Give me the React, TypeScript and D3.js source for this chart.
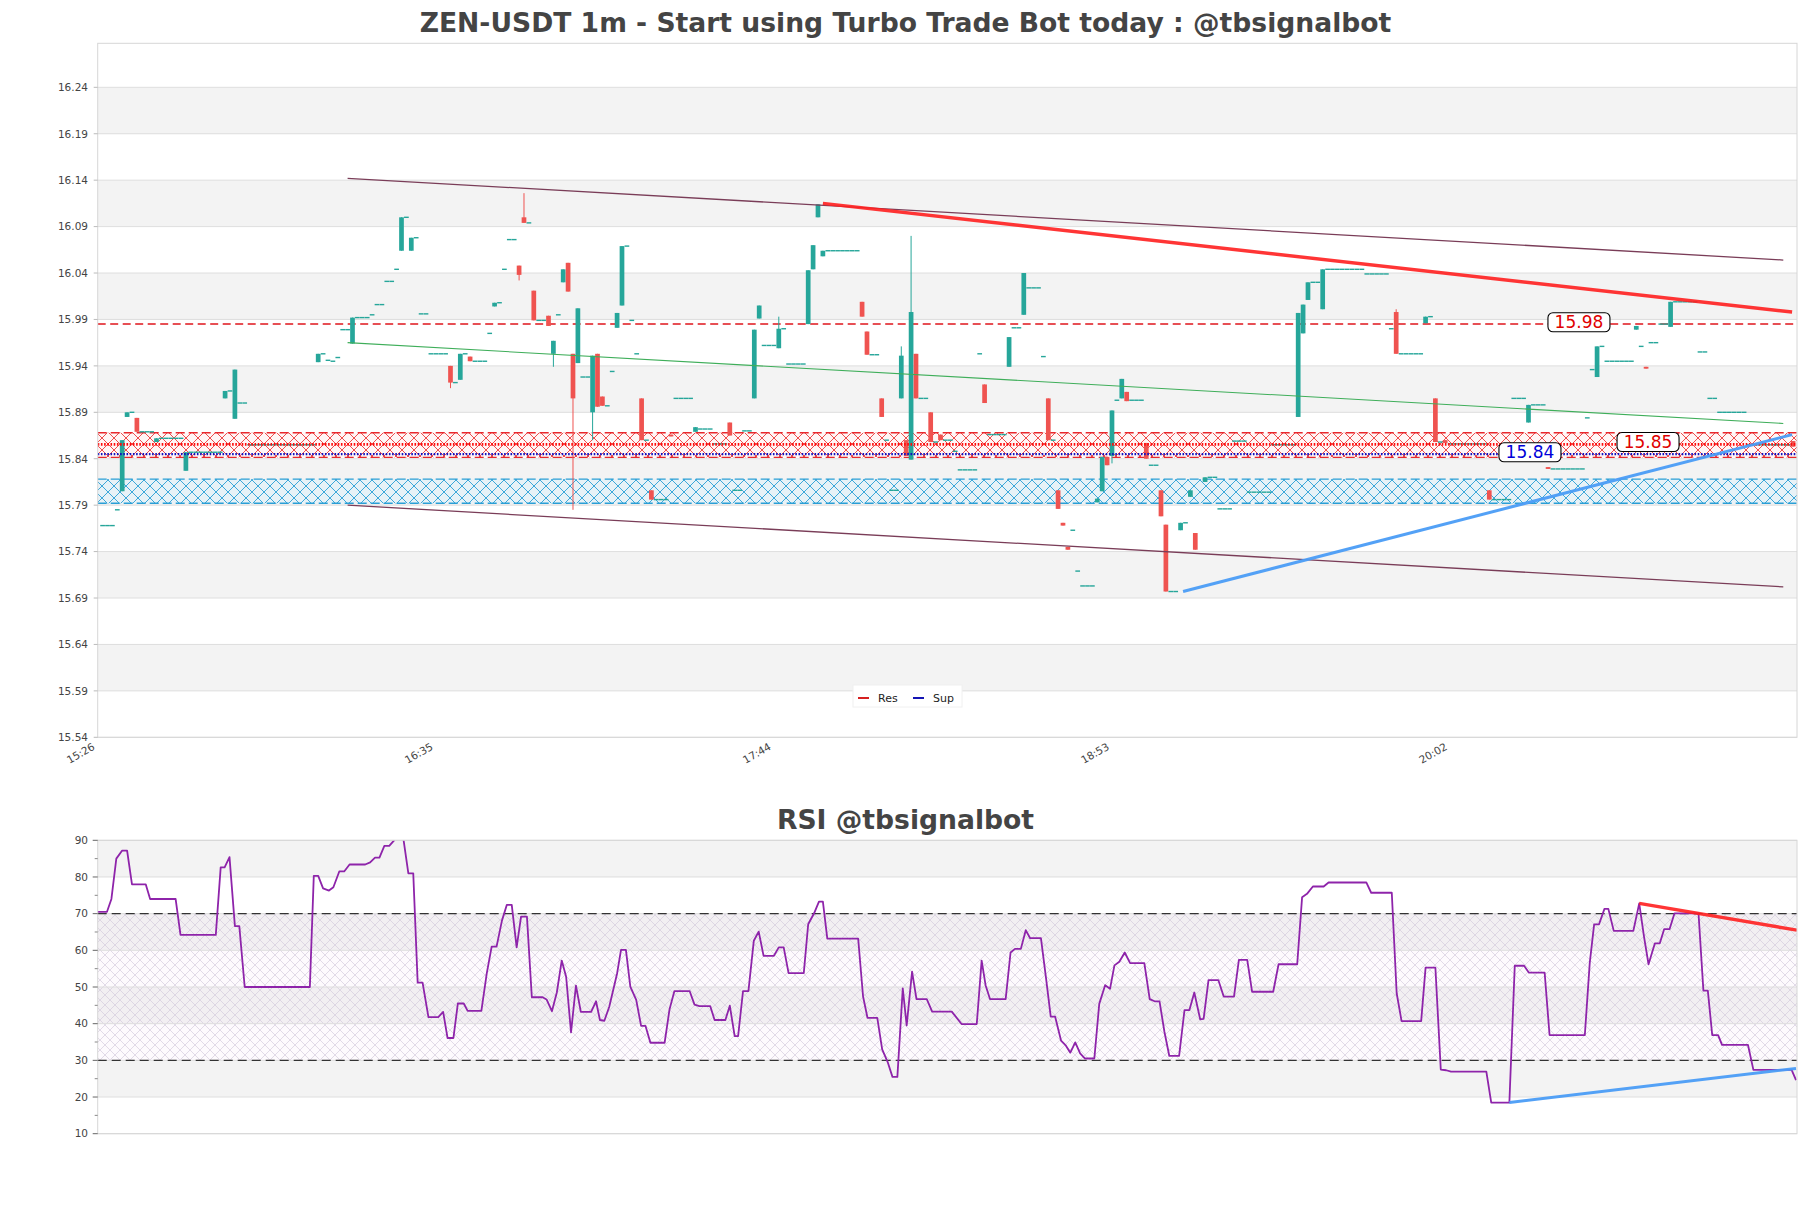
import React from 'react';
import * as d3 from 'd3';

const TITLE = 'ZEN-USDT 1m - Start using Turbo Trade Bot today : @tbsignalbot';
const RSI_TITLE = 'RSI @tbsignalbot';

const priceTicks = [15.54, 15.59, 15.64, 15.69, 15.74, 15.79, 15.84, 15.89, 15.94, 15.99, 16.04, 16.09, 16.14, 16.19, 16.24];
const rsiTicks = [10, 20, 30, 40, 50, 60, 70, 80, 90];
const rsiMinorTicks = [15, 25, 35, 45, 55, 65, 75, 85];
const timeTicks = [0, 69, 138, 207, 276];
const timeLabels = ['15:26', '16:35', '17:44', '18:53', '20:02'];

// [minute index, open, high, low, close]
const candles: number[][] = [
  [5, 15.805, 15.860, 15.805, 15.860],
  [6, 15.885, 15.890, 15.885, 15.890],
  [8, 15.884, 15.884, 15.869, 15.869],
  [12, 15.858, 15.862, 15.858, 15.862],
  [18, 15.827, 15.847, 15.827, 15.847],
  [26, 15.905, 15.913, 15.905, 15.913],
  [28, 15.883, 15.936, 15.883, 15.936],
  [45, 15.944, 15.953, 15.944, 15.953],
  [52, 15.964, 15.992, 15.964, 15.992],
  [62, 16.064, 16.100, 16.064, 16.100],
  [64, 16.064, 16.078, 16.064, 16.078],
  [72, 15.940, 15.940, 15.916, 15.922],
  [74, 15.925, 15.953, 15.925, 15.953],
  [76, 15.950, 15.950, 15.945, 15.945],
  [81, 16.004, 16.008, 16.004, 16.008],
  [86, 16.048, 16.048, 16.032, 16.038],
  [87, 16.100, 16.126, 16.094, 16.094],
  [89, 16.021, 16.021, 15.989, 15.989],
  [92, 15.994, 15.994, 15.983, 15.983],
  [93, 15.953, 15.967, 15.939, 15.967],
  [95, 16.030, 16.044, 16.030, 16.044],
  [96, 16.051, 16.051, 16.020, 16.020],
  [97, 15.953, 15.953, 15.785, 15.905],
  [98, 15.943, 16.002, 15.943, 16.002],
  [101, 15.890, 15.951, 15.860, 15.951],
  [102, 15.953, 15.953, 15.896, 15.896],
  [103, 15.907, 15.907, 15.897, 15.897],
  [106, 15.981, 15.997, 15.981, 15.997],
  [107, 16.005, 16.069, 16.005, 16.069],
  [111, 15.905, 15.905, 15.860, 15.860],
  [113, 15.806, 15.806, 15.796, 15.796],
  [117, 15.866, 15.866, 15.864, 15.864],
  [122, 15.869, 15.874, 15.869, 15.874],
  [129, 15.879, 15.879, 15.865, 15.865],
  [134, 15.905, 15.979, 15.905, 15.979],
  [135, 15.991, 16.005, 15.991, 16.005],
  [139, 15.959, 15.993, 15.959, 15.980],
  [145, 15.985, 16.043, 15.985, 16.043],
  [146, 16.044, 16.070, 16.044, 16.070],
  [147, 16.100, 16.114, 16.100, 16.114],
  [148, 16.058, 16.064, 16.058, 16.064],
  [156, 16.009, 16.009, 15.993, 15.993],
  [157, 15.977, 15.977, 15.952, 15.952],
  [160, 15.905, 15.905, 15.885, 15.885],
  [164, 15.905, 15.961, 15.905, 15.951],
  [165, 15.860, 15.860, 15.843, 15.843],
  [166, 15.839, 16.080, 15.839, 15.998],
  [167, 15.953, 15.953, 15.905, 15.905],
  [170, 15.890, 15.890, 15.858, 15.858],
  [172, 15.866, 15.866, 15.860, 15.860],
  [181, 15.920, 15.920, 15.900, 15.900],
  [186, 15.939, 15.971, 15.939, 15.971],
  [189, 15.995, 16.040, 15.995, 16.040],
  [194, 15.905, 15.905, 15.860, 15.860],
  [196, 15.806, 15.806, 15.786, 15.786],
  [197, 15.771, 15.771, 15.768, 15.768],
  [198, 15.745, 15.745, 15.742, 15.742],
  [204, 15.793, 15.797, 15.793, 15.797],
  [205, 15.805, 15.842, 15.805, 15.842],
  [206, 15.842, 15.842, 15.833, 15.833],
  [207, 15.843, 15.892, 15.835, 15.892],
  [209, 15.905, 15.926, 15.905, 15.926],
  [210, 15.912, 15.912, 15.902, 15.902],
  [214, 15.857, 15.857, 15.840, 15.840],
  [217, 15.806, 15.806, 15.778, 15.778],
  [218, 15.769, 15.769, 15.697, 15.697],
  [221, 15.763, 15.771, 15.763, 15.771],
  [223, 15.799, 15.806, 15.799, 15.806],
  [224, 15.760, 15.760, 15.742, 15.742],
  [226, 15.815, 15.820, 15.815, 15.820],
  [245, 15.885, 15.997, 15.885, 15.997],
  [246, 15.975, 16.006, 15.975, 16.006],
  [247, 16.011, 16.030, 16.011, 16.030],
  [250, 16.001, 16.044, 16.001, 16.044],
  [265, 15.998, 16.001, 15.953, 15.953],
  [271, 15.986, 15.993, 15.986, 15.993],
  [273, 15.905, 15.905, 15.858, 15.858],
  [275, 15.860, 15.860, 15.857, 15.857],
  [284, 15.806, 15.806, 15.796, 15.796],
  [292, 15.879, 15.898, 15.879, 15.898],
  [296, 15.831, 15.831, 15.829, 15.829],
  [306, 15.928, 15.961, 15.928, 15.961],
  [314, 15.979, 15.983, 15.979, 15.983],
  [316, 15.939, 15.939, 15.937, 15.937],
  [321, 15.982, 16.009, 15.982, 16.009],
  [346, 15.859, 15.859, 15.853, 15.853],
];

// flat (open = high = low = close) minutes: [first index, last index, price]
const flats: number[][] = [
  [1, 3, 15.768], [4, 4, 15.785], [7, 7, 15.890], [9, 11, 15.869], [13, 17, 15.862],
  [19, 25, 15.847], [27, 27, 15.913], [29, 30, 15.900], [31, 44, 15.855], [46, 46, 15.953],
  [47, 47, 15.946], [48, 48, 15.945], [49, 49, 15.949], [50, 51, 15.979], [53, 55, 15.992],
  [56, 56, 15.995], [57, 58, 16.006], [59, 60, 16.031], [61, 61, 16.044], [63, 63, 16.100],
  [65, 65, 16.078], [66, 67, 15.996], [68, 71, 15.953], [73, 73, 15.922], [75, 75, 15.953],
  [77, 79, 15.945], [80, 80, 15.975], [82, 82, 16.008], [83, 83, 16.044], [84, 85, 16.076],
  [88, 88, 16.094], [90, 91, 15.989], [94, 94, 15.995], [99, 100, 15.928], [104, 104, 15.897],
  [105, 105, 15.934], [108, 108, 16.069], [109, 109, 15.989], [110, 110, 15.953], [112, 112, 15.860],
  [114, 116, 15.796], [118, 121, 15.905], [123, 125, 15.872], [126, 128, 15.856], [130, 131, 15.806],
  [132, 133, 15.870], [136, 138, 15.962], [140, 140, 15.980], [141, 144, 15.942], [149, 155, 16.064],
  [158, 159, 15.952], [161, 161, 15.860], [162, 163, 15.806], [168, 169, 15.905], [171, 171, 15.858],
  [173, 174, 15.860], [175, 175, 15.848], [176, 179, 15.828], [180, 180, 15.953], [182, 185, 15.866],
  [187, 188, 15.981], [190, 192, 16.024], [193, 193, 15.950], [195, 195, 15.860], [199, 199, 15.763],
  [200, 200, 15.719], [201, 203, 15.703], [208, 208, 15.903], [211, 213, 15.903], [215, 216, 15.833],
  [219, 220, 15.697], [222, 222, 15.771], [227, 228, 15.820], [229, 231, 15.786], [232, 234, 15.859],
  [235, 239, 15.804], [240, 244, 15.855], [248, 249, 16.030], [251, 258, 16.044], [259, 263, 16.039],
  [264, 264, 15.980], [266, 270, 15.953], [272, 272, 15.993], [274, 274, 15.858], [276, 283, 15.856],
  [285, 288, 15.796], [289, 291, 15.905], [293, 295, 15.898], [297, 303, 15.829], [304, 304, 15.884],
  [305, 305, 15.936], [307, 307, 15.961], [308, 313, 15.945], [315, 315, 15.961], [317, 318, 15.965],
  [319, 320, 15.985], [322, 326, 16.009], [327, 328, 15.955], [329, 330, 15.905], [331, 336, 15.890],
  [337, 345, 15.855],
];

// RSI polyline vertices: [minute index, value]
const rsiPoints: number[][] = [
  [-0.1, 70.5], [1.9, 70.5], [2.8, 74], [3.8, 85], [5, 87.2], [6, 87.2], [7, 78], [9.8, 78], [10.7, 74],
  [15.9, 74], [16.9, 64.2], [24.1, 64.2], [25.1, 82.6], [25.9, 82.6], [26.9, 85.4], [28, 66.6], [28.9, 66.6],
  [30, 50], [43.3, 50], [44.1, 80.3], [45, 80.3], [46, 76.9], [47.2, 76.3], [48.1, 77.2], [49.3, 81.5],
  [50.3, 81.5], [51.4, 83.4], [54.6, 83.4], [55.6, 84], [56.6, 85.3], [57.5, 85.3], [58.5, 88.5], [59.5, 88.5],
  [60.5, 90], [61.6, 92.5], [62.4, 90.3], [63.4, 81], [64.4, 81], [65.3, 51.2], [66.3, 51.2], [67.5, 41.8],
  [69.5, 41.8], [70.5, 43.2], [71.4, 36.1], [72.6, 36.1], [73.5, 45.5], [74.7, 45.5], [75.5, 43.5], [78.3, 43.5],
  [79.4, 53.7], [80.4, 61], [81.4, 61], [82.5, 68.1], [83.5, 72.4], [84.5, 72.4], [85.5, 60.8], [86.4, 69.2],
  [87.6, 69.2], [88.6, 47.2], [90.8, 47.2], [91.6, 46.6], [92.7, 43.4], [93.7, 48.5], [94.7, 57.2], [95.6, 52.8],
  [96.6, 37.6], [97.6, 50.4], [98.6, 43.2], [100.7, 43.2], [101.7, 46.1], [102.5, 41],
  [103.4, 40.8], [104.4, 44.6], [106, 53.7], [106.8, 60.1], [107.8, 60.1], [108.7, 50.1], [109.9, 46.5],
  [110.9, 39.4], [111.8, 39.4], [112.8, 34.8], [115.7, 34.8], [116.7, 43.9], [117.7, 48.9], [120.8, 48.9],
  [121.8, 45.2], [122.8, 44.8], [125, 44.8], [125.9, 41], [128.1, 41], [129, 44.9], [130, 36.6], [130.7, 36.6],
  [131.7, 48.9], [132.8, 48.9], [133.9, 62.6], [134.9, 65.1], [135.9, 58.5], [138, 58.5], [139, 60.8],
  [140, 60.8], [141, 53.8], [144.1, 53.8], [145, 67.1], [146.2, 70.1], [147.2, 73.3], [148, 73.3], [148.9, 63.2],
  [155.2, 63.2], [156.2, 47.4], [157.1, 41.6], [159.1, 41.6], [160.1, 33], [161.2, 29.6], [162.2, 25.5],
  [163.2, 25.5], [164.3, 49.6], [165.1, 39.5], [166.2, 54.2], [167.1, 46.7], [169.2, 46.7], [170.3, 43.3],
  [174.3, 43.3], [176.3, 39.9], [179.4, 39.9], [180.4, 57.2], [181.2, 50.5], [182.1, 46.7], [185.3, 46.7],
  [186.3, 59.4], [187.2, 60.4], [188.4, 60.4], [189.4, 65.5], [190.3, 63.3], [192.5, 63.3], [193.5, 52.8],
  [194.5, 41.9], [195.4, 41.9], [196.6, 35.4], [197.6, 34], [198.5, 32.1], [199.5, 34.9], [200.5, 31.9],
  [201.5, 30.5], [203.4, 30.5], [204.4, 45.4], [205.6, 50.5], [206.6, 49.5], [207.5, 55.9], [208.5, 56.9],
  [209.6, 59.4], [210.7, 56.5], [213.6, 56.5], [214.7, 46.7], [215.7, 46.1], [216.7, 46.1], [217.7, 37.8],
  [218.7, 31.2], [220.7, 31.2], [221.8, 43.7], [222.8, 43.7], [223.8, 48.5], [225, 41.2],
  [225.7, 41.3], [226.7, 51.9], [228.7, 51.9], [229.8, 47.4], [231.9, 47.4], [232.9, 57.4], [234.6, 57.4],
  [235.6, 48.7], [239.9, 48.7], [241, 56.2], [244.8, 56.2], [245.8, 74.5], [246.8, 75.4], [248, 77.4],
  [250.2, 77.4], [251.2, 78.5], [258.9, 78.5], [259.9, 75.7], [264.1, 75.7], [265.1, 48.3], [266.1, 40.7],
  [270.1, 40.7], [271, 55.3], [273, 55.3], [274.1, 27.5], [275.2, 27.3], [276.2, 26.9], [283.4, 26.9],
  [284.4, 18.5], [288.1, 18.5], [289.2, 55.8], [291.1, 55.8], [292.1, 53.9], [295.3, 53.9], [296.3, 36.9],
  [303.5, 36.9], [304.5, 56.5], [305.4, 67.1], [306.4, 67.1], [307.5, 71.3], [308.3, 71.3], [309.4, 65.3],
  [313.4, 65.3], [314.6, 72.8], [315.6, 63.5], [316.5, 56.2], [317.8, 61.9], [318.8, 61.9], [319.7, 65.8],
  [320.8, 65.8], [321.8, 70.1], [326.7, 70.1], [327.7, 49], [328.6, 49], [329.5, 36.9], [330.7, 36.9],
  [331.5, 34.2], [336.8, 34.2], [337.9, 27.4], [345.7, 27.4], [346.6, 24.6],
];

const resZone = [15.8415, 15.868];
const supZone = [15.792, 15.818];
const resLevel = 15.8555;
const supLevel = 15.845;
const keyLevel = 15.985;
const channelUpper = [[51, 16.142], [344, 16.054]];
const channelLower = [[51, 15.790], [344, 15.702]];
const channelMid = [[51, 15.965], [344, 15.878]];
const resTrend = [[148, 16.115], [345.8, 15.998]];
const supTrend = [[221.5, 15.697], [345.8, 15.866]];
const rsiResTrend = [[314.6, 72.8], [346.8, 65.5]];
const rsiSupTrend = [[288.1, 18.5], [346.6, 27.8]];
const priceLabels = [
  { text: '15.98', k: 302.3, v: 15.987, color: '#e00000' },
  { text: '15.85', k: 316.4, v: 15.858, color: '#e00000' },
  { text: '15.84', k: 292.3, v: 15.847, color: '#0000d8' },
];

const FONT = '"DejaVu Sans", Verdana, sans-serif';
const TEAL = '#26a69a';
const RED = '#ef5350';
const GRID = '#dedede';
const BAND = '#f3f3f3';
const TXT = '#444444';

const L = 97.7, R = 1797;
const T1 = 43.3, B1 = 737.3;
const T2 = 840.3, B2 = 1133.7;

export default function App() {
  const x = d3.scaleLinear().domain([0, 346.8]).range([L, R]);
  const y = d3.scaleLinear().domain([15.54, 16.2874]).range([B1, T1]);
  const yr = d3.scaleLinear().domain([10, 90]).range([B2, T2]);
  const step = x(1) - x(0);
  const bw = step * 0.96;

  const seg = (pts: number[][], sy: any) =>
    d3.line<number[]>().x(d => x(d[0])).y(d => sy(d[1]))(pts) || '';

  const rsiPath = d3.line<number[]>().x(d => x(d[0])).y(d => yr(d[1]))(rsiPoints) || '';

  const bandsMain: number[][] = [];
  for (let i = 1; i + 1 < priceTicks.length; i += 2) bandsMain.push([priceTicks[i], priceTicks[i + 1]]);
  const bandsRsi: number[][] = [];
  for (let i = 1; i + 1 < rsiTicks.length; i += 2) bandsRsi.push([rsiTicks[i], rsiTicks[i + 1]]);

  const flatBars: { k: number; v: number }[] = [];
  flats.forEach(([a, b, v]) => d3.range(a, b + 1).forEach(k => flatBars.push({ k, v })));

  return (
    <svg width={1811} height={1208} style={{ position: 'absolute', left: 0, top: 0, background: '#fff' }}
      fontFamily={FONT}>
      <defs>
        <clipPath id="clipMain"><rect x={L} y={T1} width={R - L} height={B1 - T1} /></clipPath>
        <clipPath id="clipRsi"><rect x={L} y={T2} width={R - L} height={B2 - T2} /></clipPath>
        <pattern id="hRed" width={12} height={12} patternUnits="userSpaceOnUse">
          <path d="M0,0L12,12M12,0L0,12" stroke="#ec3a3a" strokeWidth={0.9} fill="none" />
        </pattern>
        <pattern id="hCyan" width={12} height={12} patternUnits="userSpaceOnUse">
          <path d="M0,0L12,12M12,0L0,12" stroke="#2a9fd6" strokeWidth={0.9} fill="none" />
        </pattern>
        <pattern id="hRsi" width={10} height={10} patternUnits="userSpaceOnUse">
          <path d="M0,0L10,10M10,0L0,10" stroke="#cfc4d8" strokeWidth={0.6} fill="none" />
        </pattern>
      </defs>

      <rect x={0} y={0} width={1811} height={1208} fill="#fff" />

      {/* ---------- MAIN CHART ---------- */}
      <text x={905.5} y={32} textAnchor="middle" fontSize={26.6} fontWeight="bold" fill={TXT}>{TITLE}</text>
      <rect x={L} y={T1} width={R - L} height={B1 - T1} fill="#fff" />
      {bandsMain.map(([a, b], i) => (
        <rect key={'bm' + i} x={L} y={y(b)} width={R - L} height={y(a) - y(b)} fill={BAND} />
      ))}
      {priceTicks.map((t, i) => (
        <line key={'gm' + i} x1={L} x2={R} y1={y(t)} y2={y(t)} stroke={GRID} strokeWidth={1} />
      ))}

      <g clipPath="url(#clipMain)">
        {/* zones */}
        <rect x={L} y={y(resZone[1])} width={R - L} height={y(resZone[0]) - y(resZone[1])} fill="rgba(255,240,240,0.6)" />
        <rect x={L} y={y(resZone[1])} width={R - L} height={y(resZone[0]) - y(resZone[1])} fill="url(#hRed)" />
        <rect x={L} y={y(supZone[1])} width={R - L} height={y(supZone[0]) - y(supZone[1])} fill="rgba(225,242,250,0.6)" />
        <rect x={L} y={y(supZone[1])} width={R - L} height={y(supZone[0]) - y(supZone[1])} fill="url(#hCyan)" />
        {resZone.map((v, i) => (
          <line key={'rz' + i} x1={L} x2={R} y1={y(v)} y2={y(v)} stroke="#e8282d" strokeWidth={1.4} strokeDasharray="9,4" />
        ))}
        {supZone.map((v, i) => (
          <line key={'sz' + i} x1={L} x2={R} y1={y(v)} y2={y(v)} stroke="#2a9fd6" strokeWidth={1.4} strokeDasharray="9,4" />
        ))}
        <line x1={L} x2={R} y1={y(keyLevel)} y2={y(keyLevel)} stroke="#e0161c" strokeWidth={1.5} strokeDasharray="8,4.5" />

        {/* candles */}
        {flatBars.map((f, i) => (
          <rect key={'f' + i} x={x(f.k) - bw / 2} y={y(f.v) - 0.7} width={bw} height={1.4} fill={TEAL} />
        ))}
        {candles.map(([k, o, h, l, c], i) => {
          const col = c >= o ? TEAL : RED;
          const top = y(Math.max(o, c));
          const bot = y(Math.min(o, c));
          return (
            <g key={'c' + i}>
              <line x1={x(k)} x2={x(k)} y1={y(h)} y2={y(l)} stroke={col} strokeWidth={1} />
              <rect x={x(k) - bw / 2} y={top} width={bw} height={Math.max(1.4, bot - top)} fill={col} />
            </g>
          );
        })}

        {/* level lines */}
        <line x1={L} x2={R} y1={y(resLevel)} y2={y(resLevel)} stroke="#ff0a0a" strokeWidth={2.6} strokeDasharray="1.6,1.6" />
        <line x1={L} x2={R} y1={y(supLevel)} y2={y(supLevel)} stroke="#1010c0" strokeWidth={2.4} strokeDasharray="1.6,1.6" />

        {/* channel */}
        <path d={seg(channelUpper, y)} stroke="#7a3d58" strokeWidth={1.3} fill="none" />
        <path d={seg(channelLower, y)} stroke="#7a3d58" strokeWidth={1.3} fill="none" />
        <path d={seg(channelMid, y)} stroke="#3fae5a" strokeWidth={1.1} fill="none" />

        {/* trend lines */}
        <path d={seg(resTrend, y)} stroke="#ff1f1f" strokeOpacity={0.9} strokeWidth={3.4} fill="none" />
        <path d={seg(supTrend, y)} stroke="#4a9cf6" strokeOpacity={0.95} strokeWidth={3} fill="none" />
      </g>

      {/* price labels */}
      {priceLabels.map((p, i) => {
        const cx = x(p.k), cy = y(p.v);
        return (
          <g key={'pl' + i}>
            <rect x={cx - 31} y={cy - 9.5} width={62} height={19} rx={5} fill="#fff" stroke="#000" strokeWidth={1.1} />
            <text x={cx} y={cy} dy="0.36em" textAnchor="middle" fontSize={17} fill={p.color}>{p.text}</text>
          </g>
        );
      })}

      {/* legend */}
      <rect x={853} y={685} width={109} height={22} fill="#fff" stroke="#f0f0f0" />
      <line x1={858} x2={869} y1={698} y2={698} stroke="#d62020" strokeWidth={2} />
      <text x={878} y={698} dy="0.35em" fontSize={11} fill="#222">Res</text>
      <line x1={913} x2={924} y1={698} y2={698} stroke="#1414b4" strokeWidth={2} />
      <text x={933} y={698} dy="0.35em" fontSize={11} fill="#222">Sup</text>

      <rect x={L} y={T1} width={R - L} height={B1 - T1} fill="none" stroke="#d6d6d6" strokeWidth={1} />
      {priceTicks.map((t, i) => (
        <g key={'yt' + i}>
          <line x1={L - 4} x2={L} y1={y(t)} y2={y(t)} stroke="#bbb" />
          <text x={88} y={y(t)} dy="0.36em" textAnchor="end" fontSize={10.5} fill={TXT}>{t.toFixed(2)}</text>
        </g>
      ))}
      {timeTicks.map((t, i) => (
        <text key={'xt' + i} transform={`translate(${x(t) - 6},${742}) rotate(-30)`} dy="0.75em" textAnchor="end"
          fontSize={10.5} fill={TXT}>{timeLabels[i]}</text>
      ))}

      {/* ---------- RSI CHART ---------- */}
      <text x={905.5} y={829} textAnchor="middle" fontSize={26.6} fontWeight="bold" fill={TXT}>{RSI_TITLE}</text>
      <rect x={L} y={T2} width={R - L} height={B2 - T2} fill="#fff" />
      {bandsRsi.map(([a, b], i) => (
        <rect key={'br' + i} x={L} y={yr(b)} width={R - L} height={yr(a) - yr(b)} fill={BAND} />
      ))}
      <rect x={L} y={yr(70)} width={R - L} height={yr(30) - yr(70)} fill="rgba(235,215,240,0.12)" />
      <rect x={L} y={yr(70)} width={R - L} height={yr(30) - yr(70)} fill="url(#hRsi)" />
      {rsiTicks.map((t, i) => (
        <line key={'gr' + i} x1={L} x2={R} y1={yr(t)} y2={yr(t)} stroke={GRID} strokeWidth={1} />
      ))}
      {[70, 30].map((v, i) => (
        <line key={'rl' + i} x1={L} x2={R} y1={yr(v)} y2={yr(v)} stroke="#333" strokeWidth={1.2} strokeDasharray="9,5" />
      ))}
      <g clipPath="url(#clipRsi)">
        <path d={rsiPath} stroke="#8e24aa" strokeWidth={1.8} fill="none" strokeLinejoin="round" />
        <path d={seg(rsiResTrend, yr)} stroke="#ff1f1f" strokeOpacity={0.9} strokeWidth={3.4} fill="none" />
        <path d={seg(rsiSupTrend, yr)} stroke="#4a9cf6" strokeOpacity={0.95} strokeWidth={3} fill="none" />
      </g>
      <rect x={L} y={T2} width={R - L} height={B2 - T2} fill="none" stroke="#d6d6d6" strokeWidth={1} />
      {rsiTicks.map((t, i) => (
        <g key={'rt' + i}>
          <line x1={L - 5} x2={L} y1={yr(t)} y2={yr(t)} stroke="#666" />
          <text x={88} y={yr(t)} dy="0.36em" textAnchor="end" fontSize={10.5} fill={TXT}>{t}</text>
        </g>
      ))}
      {rsiMinorTicks.map((t, i) => (
        <line key={'rm' + i} x1={L - 3} x2={L} y1={yr(t)} y2={yr(t)} stroke="#888" />
      ))}
    </svg>
  );
}
